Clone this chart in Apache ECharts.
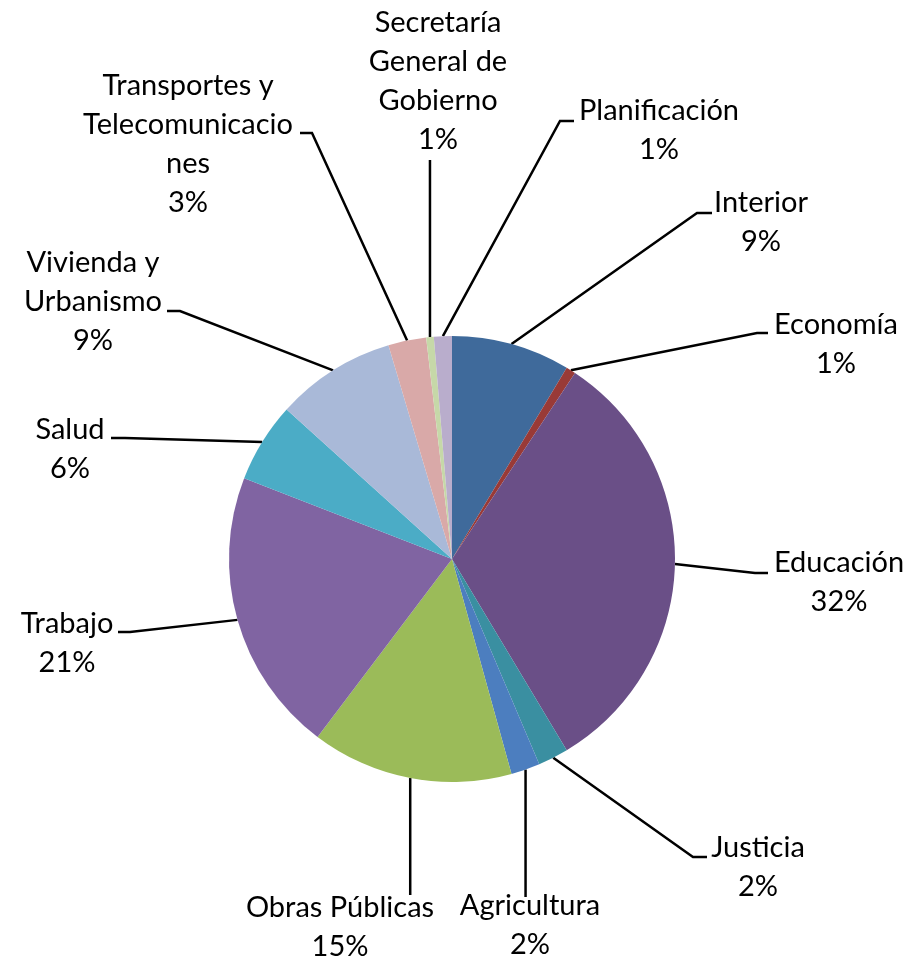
<!DOCTYPE html>
<html><head><meta charset="utf-8">
<script src="https://cdn.jsdelivr.net/npm/echarts@6/dist/echarts.min.js"></script>
<style>html,body{margin:0;padding:0;background:#fff}#c{width:909px;height:960px}</style>
</head><body><div id="c"></div>
<script>
// ---- data ----
const categories = ['Interior','Economía','Educación','Justicia','Agricultura','Obras Públicas','Trabajo','Salud','Vivienda y Urbanismo','Transportes y Telecomunicaciones','Secretaría General de Gobierno','Planificación'];
const labelTexts = ['Interior','Economía','Educación','Justicia','Agricultura','Obras Públicas','Trabajo','Salud','Vivienda y\nUrbanismo','Transportes y\nTelecomunicacio\nnes','Secretaría\nGeneral de\nGobierno','Planificación'];
const values = [8.6, 0.7, 32.1, 2.2, 2.1, 14.6, 20.6, 5.8, 8.7, 2.75, 0.55, 1.3];
const colors = ['#3F6A9B','#993A37','#6A4F87','#3A8FA1','#4C7EBF','#9BBB59','#8064A2','#4BACC6','#A9B9D8','#D9A9A8','#C6D8A8','#B9ADCC'];

// ---- layout (label placement, not data) ----
const CX = 452, CY = 559, R = 223;
// cx, cy: label centre; ex, ey: leader end; bx: elbow start x (null = straight vertical leader)
const labelPos = [
  {cx:761, cy:222, ex:712, ey:213, bx:697},
  {cx:836, cy:344, ex:768, ey:333, bx:757},
  {cx:839, cy:582, ex:768, ey:573, bx:755},
  {cx:758, cy:867, ex:707, ey:857, bx:693},
  {cx:530, cy:925, ey:897, bx:null},
  {cx:340, cy:927, ey:895, bx:null},
  {cx:67,  cy:643, ex:118, ey:632, bx:130},
  {cx:70,  cy:449, ex:111, ey:438, bx:125},
  {cx:93,  cy:302, ex:167, ey:311, bx:180},
  {cx:188, cy:144, ex:300, ey:133, bx:312},
  {cx:438, cy:81,  ey:160, bx:null},
  {cx:659, cy:130, ex:574, ey:121, bx:560}
];

const total = values.reduce((a,b)=>a+b,0);
const arcPts = [];
(function(){
  let cum = 0;
  values.forEach(v => {
    const a = (cum + v/2) / total * Math.PI * 2;
    arcPts.push([CX + R*Math.sin(a), CY - R*Math.cos(a)]);
    cum += v;
  });
})();

const chart = echarts.init(document.getElementById('c'), null, {renderer:'canvas'});
chart.setOption({
  animation: false,
  backgroundColor: '#ffffff',
  series: [{
    type: 'pie',
    center: [CX, CY],
    radius: R,
    startAngle: 90,
    clockwise: true,
    avoidLabelOverlap: false,
    emphasis: {disabled: true},
    itemStyle: {borderWidth: 0},
    data: categories.map((n,i)=>({name:n, value:values[i], itemStyle:{color:colors[i]}})),
    label: {
      show: true,
      color: '#000',
      fontFamily: 'Lato',
      fontSize: 29,
      lineHeight: 39,
      align: 'center',
      formatter: p => labelTexts[p.dataIndex] + '\n' + Math.round(p.value/total*100) + '%'
    },
    labelLine: {show: true, lineStyle: {color: '#000', width: 2.5}},
    labelLayout: function (params) {
      const i = params.dataIndex;
      const L = labelPos[i];
      const p0 = arcPts[i];
      let pts;
      if (L.bx == null) {
        pts = [p0, [p0[0], L.ey], [p0[0], L.ey]];
      } else {
        pts = [p0, [L.bx, L.ey], [L.ex, L.ey]];
      }
      return {x: L.cx, y: L.cy, align: 'center', verticalAlign: 'middle', labelLinePoints: pts};
    }
  }]
});
</script>
</body></html>
